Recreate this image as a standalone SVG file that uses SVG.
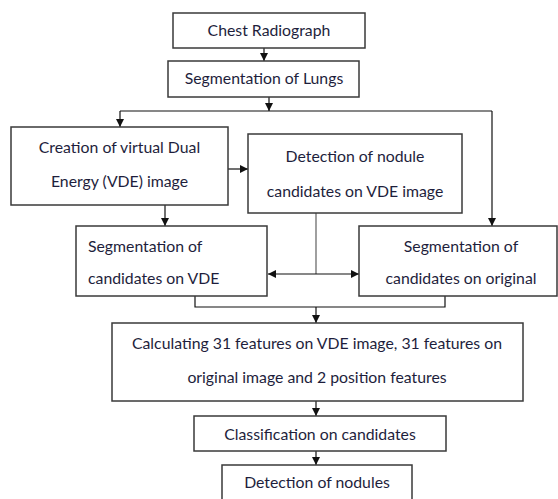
<svg xmlns="http://www.w3.org/2000/svg" width="558" height="499" viewBox="0 0 558 499">
<style>
.box{fill:#fff;stroke:#3a3a3a;stroke-width:1.5}
.t{font-family:Lato,"Liberation Sans",sans-serif;font-size:15.8px;fill:#1e1e3c}
.c{text-anchor:middle}
.ln{fill:none;stroke:#111;stroke-width:1.2}
.gr{fill:none;stroke:#777;stroke-width:1.4}
</style>
<defs>
<marker id="ah" markerWidth="8" markerHeight="8" refX="8" refY="4" orient="auto" markerUnits="userSpaceOnUse">
<path d="M0,0 L8,4 L0,8 Z" fill="#111"/>
</marker>
</defs>
<rect width="558" height="499" fill="#fff"/>
<g id="connectors">
<line class="ln" x1="264" y1="48" x2="264" y2="61" marker-end="url(#ah)"/>
<line class="ln" x1="269" y1="97" x2="269" y2="111" marker-end="url(#ah)"/>
<polyline class="ln" points="120,111 492,111"/>
<line class="ln" x1="120" y1="111" x2="120" y2="127" marker-end="url(#ah)"/>
<line class="ln" x1="492" y1="111" x2="492" y2="226" marker-end="url(#ah)"/>
<line class="ln" x1="228" y1="169" x2="248" y2="169" marker-end="url(#ah)"/>
<line class="ln" x1="165" y1="205" x2="165" y2="226" marker-end="url(#ah)"/>
<line class="gr" x1="316" y1="213" x2="316" y2="274"/>
<line class="ln" x1="316" y1="274" x2="268" y2="274" marker-end="url(#ah)"/>
<line class="ln" x1="316" y1="274" x2="359" y2="274" marker-end="url(#ah)"/>
<polyline class="ln" points="195,296 195,307 445,307 445,296"/>
<line class="ln" x1="316" y1="307" x2="316" y2="323" marker-end="url(#ah)"/>
<line class="ln" x1="316" y1="401" x2="316" y2="416" marker-end="url(#ah)"/>
<line class="ln" x1="316" y1="451" x2="316" y2="465" marker-end="url(#ah)"/>
</g>
<g id="chest">
<rect class="box" x="173" y="13" width="192" height="35"/>
<text class="t c" x="269" y="36">Chest Radiograph</text>
</g>
<g id="seglungs">
<rect class="box" x="168" y="61" width="191" height="36"/>
<text class="t c" x="264" y="84">Segmentation of Lungs</text>
</g>
<g id="creation">
<rect class="box" x="11" y="127" width="217" height="78"/>
<text class="t c" x="119.5" y="153">Creation of virtual Dual</text>
<text class="t c" x="119.5" y="187">Energy (VDE) image</text>
</g>
<g id="detection">
<rect class="box" x="248" y="134" width="214" height="79"/>
<text class="t c" x="355" y="162">Detection of nodule</text>
<text class="t c" x="355" y="197">candidates on VDE image</text>
</g>
<g id="segvde">
<rect class="box" x="76" y="226" width="191" height="70"/>
<text class="t" x="88" y="252">Segmentation of</text>
<text class="t" x="88" y="284">candidates on VDE</text>
</g>
<g id="segorig">
<rect class="box" x="359" y="226" width="198" height="70"/>
<text class="t c" x="461" y="252">Segmentation of</text>
<text class="t c" x="461" y="284">candidates on original</text>
</g>
<g id="calc">
<rect class="box" x="112" y="323" width="411" height="78"/>
<text class="t c" x="317" y="349">Calculating 31 features on VDE image, 31 features on</text>
<text class="t c" x="317" y="383">original image and 2 position features</text>
</g>
<g id="classification">
<rect class="box" x="194" y="416" width="252" height="35"/>
<text class="t c" x="320" y="440">Classification on candidates</text>
</g>
<g id="nodules">
<rect class="box" x="222" y="465" width="190" height="40"/>
<text class="t c" x="317" y="488">Detection of nodules</text>
</g>
</svg>
